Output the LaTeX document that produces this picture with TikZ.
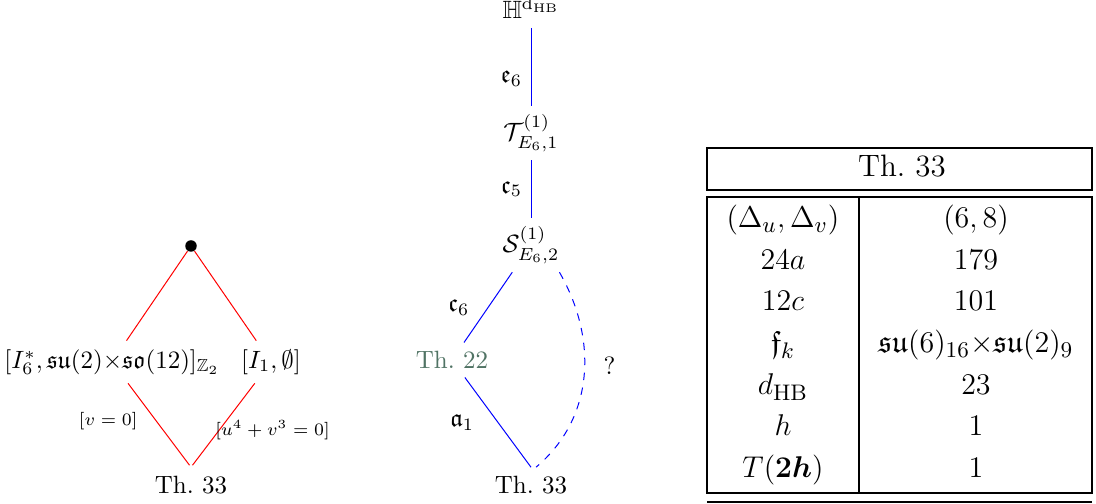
\documentclass[tikz,border=0pt]{standalone}
\usepackage{amsmath,amssymb}
\usepackage{bm}
\definecolor{thgreen}{RGB}{80,115,100}
\tikzset{
  lbl/.style={font=\fontsize{7.5}{9}\selectfont,text=black},
  elbl/.style={text=black},
  cell/.style={font=\fontsize{12.4}{15}\selectfont,anchor=base},
  frame/.style={line width=1pt},
}
\begin{document}
\begin{tikzpicture}[x=0.4pt,y=-0.4pt]
\useasboundingbox (0,0) rectangle (1096,504);
% left diagram
\node [circle,fill,inner sep=0pt,minimum size=4.6pt] (dot) at (191,246) {};
\node (L) at (112,362) {$[I_6^*,\mathfrak{su}(2){\times}\mathfrak{so}(12)]_{\mathbb{Z}_2}$};
\node (R) at (271,362) {$[I_1,\emptyset]$};
\node (B1) at (191,485) {Th.~33};
\draw [red] (dot) -- (L);
\draw [red] (dot) -- (R);
\draw [red,shorten >=1pt] (L) -- (B1.north) node [lbl,left=4pt,pos=0.45]{$[v=0]$};
\draw [red,shorten >=1pt] (R) -- (B1.north) node [lbl,anchor=west,xshift=-5pt,pos=0.56]{$[u^4+v^3=0]$};
% middle diagram
\node [anchor=base] (H) at (531,19) {$\mathbb{H}^{\mathrm{d}_{\mathrm{HB}}}$};
\node (T) at (531,133) {$\mathcal{T}^{(1)}_{E_6,1}$};
\node (S) at (531,245) {$\mathcal{S}^{(1)}_{E_6,2}$};
\node [text=thgreen] (M) at (452,360) {Th.~22};
\node (B2) at (531,485) {Th.~33};
\draw [blue] (H) -- (T) node [elbl,left,pos=0.65]{$\mathfrak{e}_6$};
\draw [blue] (T) -- (S) node [elbl,left,midway]{$\mathfrak{c}_5$};
\draw [blue] (S) -- (M) node [elbl,left=4pt,midway]{$\mathfrak{c}_6$};
\draw [blue] (M) -- (B2.north) node [elbl,left=6pt,midway]{$\mathfrak{a}_1$};
\draw [blue,dashed] ([xshift=-3.5pt]S.south east) to [out=-60,in=40] node [elbl,right=4pt,pos=0.45]{?} ([xshift=2pt]B2.north);
% table
\draw [frame] (707,148) rectangle (1092,190);
\draw [frame] (707,197) rectangle (1092,493);
\draw [frame] (859,197) -- (859,493);
\draw [frame] (707,502) -- (1092,502);
\node [cell] (head) at (902,177) {Th.~33};
\node [cell] (kDelta) at (783,228) {$(\Delta_u,\Delta_v)$};
\node [cell] (vDelta) at (976,228) {$(6,8)$};
\node [cell] (ka) at (783,270) {$24a$};
\node [cell] (va) at (976,270) {$179$};
\node [cell] (kc) at (783,311) {$12c$};
\node [cell] (vc) at (976,311) {$101$};
\node [cell] (kf) at (783,353) {$\mathfrak{f}_k$};
\node [cell] (vf) at (976,353) {$\mathfrak{su}(6)_{16}{\times}\mathfrak{su}(2)_9$};
\node [cell] (kd) at (783,395) {$d_{\mathrm{HB}}$};
\node [cell] (vd) at (976,395) {$23$};
\node [cell] (kh) at (783,436) {$h$};
\node [cell] (vh) at (976,436) {$1$};
\node [cell] (kT) at (783,478) {$T(\bm{2h})$};
\node [cell] (vT) at (976,478) {$1$};
\end{tikzpicture}
\end{document}
